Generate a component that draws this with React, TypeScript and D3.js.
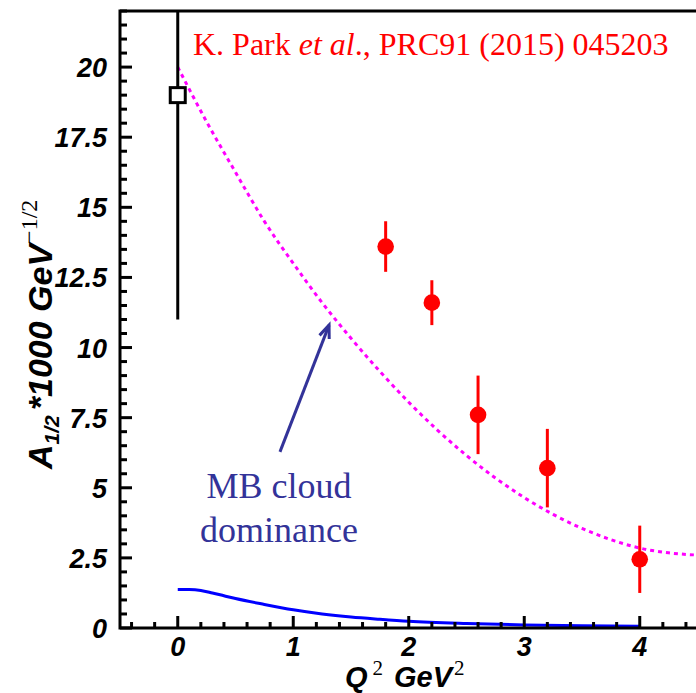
import React from "react";
import * as d3 from "d3";

// ---- data ----
const parkQ2 = [1.8, 2.2, 2.6, 3.2, 4.0];
const parkA = [13.6, 11.6, 7.6, 5.7, 2.45];
const parkErr = [0.9, 0.8, 1.4, 1.4, 1.2];

const photonQ2 = [0];
const photonA = [19];
const photonErrLow = [8];
const photonErrHigh = [8];

const fitQ2 = [0, 0.25, 0.5, 0.75, 1.0, 1.25, 1.5, 1.75, 2.0, 2.25, 2.5, 2.75, 3.0, 3.25, 3.5, 3.75, 4.0, 4.25, 4.5];
const fitA = [20.0, 18.05, 16.25, 14.5, 13.0, 11.6, 10.33, 9.15, 8.05, 7.05, 6.15, 5.35, 4.65, 4.05, 3.55, 3.15, 2.85, 2.68, 2.6];

const mbQ2 = [0, 0.1, 0.2, 0.3, 0.4, 0.5, 0.75, 1.0, 1.25, 1.5, 1.75, 2.0, 2.5, 3.0, 3.5, 4.0];
const mbA = [1.37, 1.37, 1.34, 1.25, 1.15, 1.05, 0.84, 0.65, 0.5, 0.39, 0.31, 0.24, 0.16, 0.11, 0.08, 0.06];

const xMajorTicks = [0, 1, 2, 3, 4];
const xTickLabels = ["0", "1", "2", "3", "4"];
const yMajorTicks = [0, 2.5, 5, 7.5, 10, 12.5, 15, 17.5, 20];
const yTickLabels = ["0", "2.5", "5", "7.5", "10", "12.5", "15", "17.5", "20"];

const referenceText = "K. Park ";
const referenceItalic = "et al";
const referenceRest = "., PRC91 (2015) 045203";
const annotationLines = ["MB cloud", "dominance"];
const arrowFrom: [number, number] = [0.885, 6.28];
const arrowTo: [number, number] = [1.31, 10.8];

// ---- layout ----
const W = 696;
const H = 693;
const left = 120;
const right = 697.5;
const top = 11;
const bottom = 628;

const sans = "'Liberation Sans', Arial, Helvetica, sans-serif";
const serif = "'Liberation Serif', 'Times New Roman', Times, serif";

export default function App() {
  const x = d3.scaleLinear().domain([-0.5, 4.5]).range([left, right]);
  const y = d3.scaleLinear().domain([0, 22]).range([bottom, top]);

  const xMinor = d3.range(-0.4, 4.5, 0.2).map((v) => +v.toFixed(2)).filter((v) => !xMajorTicks.some((m) => Math.abs(m - v) < 1e-6));
  const yMinor = d3.range(0.5, 22.01, 0.5).map((v) => +v.toFixed(2)).filter((v) => !yMajorTicks.some((m) => Math.abs(m - v) < 1e-6));

  const fitLine = d3
    .line<number>()
    .x((_, i) => x(fitQ2[i]))
    .y((d) => y(d))
    .curve(d3.curveMonotoneX)(fitA) as string;
  const mbLine = d3
    .line<number>()
    .x((_, i) => x(mbQ2[i]))
    .y((d) => y(d))
    .curve(d3.curveMonotoneX)(mbA) as string;

  const ax0 = x(arrowFrom[0]);
  const ay0 = y(arrowFrom[1]);
  const ax1 = x(arrowTo[0]);
  const ay1 = y(arrowTo[1]);
  const ang = Math.atan2(ay1 - ay0, ax1 - ax0);
  const headLen = 14;
  const headAng = 0.38;
  const h1 = [ax1 - headLen * Math.cos(ang - headAng), ay1 - headLen * Math.sin(ang - headAng)];
  const h2 = [ax1 - headLen * Math.cos(ang + headAng), ay1 - headLen * Math.sin(ang + headAng)];

  const blue = "#333399";

  return (
    <svg width={W} height={H} style={{ position: "absolute", left: 0, top: 0, background: "#fff" }}>
      <defs>
        <clipPath id="plotClip">
          <rect x={left} y={top} width={right - left} height={bottom - top} />
        </clipPath>
      </defs>
      <rect x={0} y={0} width={W} height={H} fill="#fff" />

      <g clipPath="url(#plotClip)">
        {/* magenta dotted curve */}
        <path d={fitLine} fill="none" stroke="#ff00ff" strokeWidth={3} strokeDasharray="4 4" />
        {/* blue MB curve */}
        <path d={mbLine} fill="none" stroke="#0000ff" strokeWidth={3} />

        {/* photon point */}
        {photonQ2.map((q, i) => (
          <g key={"p" + i}>
            <line x1={x(q)} x2={x(q)} y1={y(photonA[i] - photonErrLow[i])} y2={y(photonA[i] + photonErrHigh[i])} stroke="#000" strokeWidth={3} />
            <rect x={x(q) - 7.5} y={y(photonA[i]) - 7.5} width={15} height={15} fill="#fff" stroke="#000" strokeWidth={3} />
          </g>
        ))}

        {/* Park data */}
        {parkQ2.map((q, i) => (
          <g key={"d" + i}>
            <line x1={x(q)} x2={x(q)} y1={y(parkA[i] - parkErr[i])} y2={y(parkA[i] + parkErr[i])} stroke="#ff0000" strokeWidth={3} />
            <circle cx={x(q)} cy={y(parkA[i])} r={8.3} fill="#ff0000" />
          </g>
        ))}
      </g>

      {/* frame */}
      <path d={`M${right},${top}H${left}V${bottom}H${right}`} fill="none" stroke="#000" strokeWidth={3} />

      {/* x ticks */}
      {xMajorTicks.map((t) => (
        <line key={"xM" + t} x1={x(t)} x2={x(t)} y1={bottom} y2={bottom - 12} stroke="#000" strokeWidth={3} />
      ))}
      {xMinor.map((t) => (
        <line key={"xm" + t} x1={x(t)} x2={x(t)} y1={bottom} y2={bottom - 6} stroke="#000" strokeWidth={3} />
      ))}
      {xMajorTicks.map((t, i) => (
        <text key={"xl" + t} x={x(t)} y={656} textAnchor="middle" fontFamily={sans} fontWeight="bold" fontStyle="italic" fontSize={27}>
          {xTickLabels[i]}
        </text>
      ))}

      {/* y ticks */}
      {yMajorTicks.map((t) => (
        <line key={"yM" + t} x1={left} x2={left + 12} y1={y(t)} y2={y(t)} stroke="#000" strokeWidth={3} />
      ))}
      {yMinor.map((t) => (
        <line key={"ym" + t} x1={left} x2={left + 7} y1={y(t)} y2={y(t)} stroke="#000" strokeWidth={3} />
      ))}
      {yMajorTicks.map((t, i) => (
        <text key={"yl" + t} x={107} y={y(t) + 10} textAnchor="end" fontFamily={sans} fontWeight="bold" fontStyle="italic" fontSize={27}>
          {yTickLabels[i]}
        </text>
      ))}

      {/* x title */}
      <text x={345} y={687} fontFamily={sans} fontWeight="bold" fontStyle="italic" fontSize={29}>
        <tspan>Q</tspan>
        <tspan fontFamily={serif} fontWeight="normal" fontStyle="normal" fontSize={21} dx={5} dy={-12}>2</tspan>
        <tspan dx={11} dy={12}>GeV</tspan>
        <tspan fontFamily={serif} fontWeight="normal" fontStyle="normal" fontSize={21} dx={2} dy={-12}>2</tspan>
      </text>

      {/* y title */}
      <text transform={`translate(52,469) rotate(-90)`} fontFamily={sans} fontWeight="bold" fontStyle="italic" fontSize={34}>
        <tspan>A</tspan>
        <tspan fontSize={21} dy={7}>1/2</tspan>
        <tspan dx={5} dy={-7}>*1000 GeV</tspan>
        <tspan fontFamily={serif} fontWeight="normal" fontStyle="normal" fontSize={24} dy={-15}>−1/2</tspan>
      </text>

      {/* reference */}
      <text x={193} y={55} fill="#ff0000" fontFamily={serif} fontSize={32}>
        <tspan>{referenceText}</tspan>
        <tspan fontStyle="italic">{referenceItalic}</tspan>
        <tspan>{referenceRest}</tspan>
      </text>

      {/* annotation */}
      {annotationLines.map((s, i) => (
        <text key={"a" + i} x={279} y={498 + i * 44} textAnchor="middle" fill={blue} fontFamily={serif} fontSize={36}>
          {s}
        </text>
      ))}
      <line x1={ax0} y1={ay0} x2={ax1} y2={ay1} stroke={blue} strokeWidth={3} />
      <path d={`M${h1[0]},${h1[1]}L${ax1},${ay1}L${h2[0]},${h2[1]}`} fill="none" stroke={blue} strokeWidth={3} />
    </svg>
  );
}
